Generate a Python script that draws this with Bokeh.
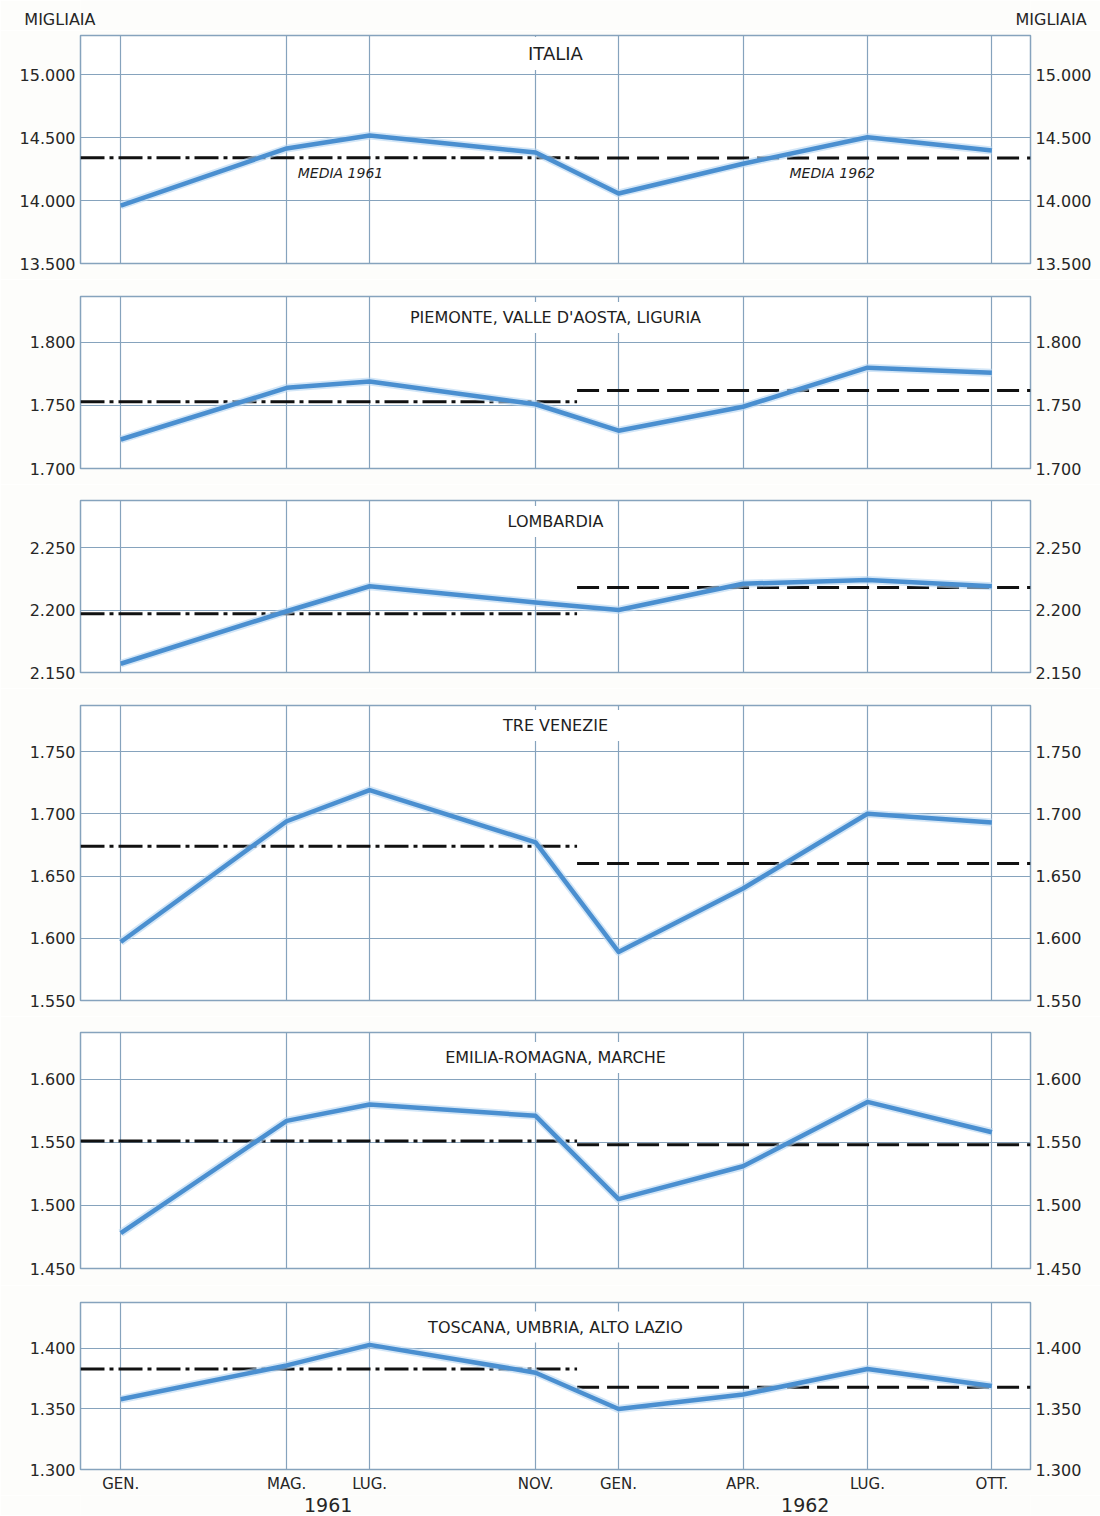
from bokeh.plotting import figure
from bokeh.layouts import column
from bokeh.models import FixedTicker, LinearAxis, Label, Range1d, Grid
from bokeh.embed import file_html
from bokeh.resources import INLINE

# x positions: month index counted from January 1961
months = [0, 4, 6, 10, 12, 15, 18, 21]
month_labels = ["GEN.", "MAG.", "LUG.", "NOV.", "GEN.", "APR.", "LUG.", "OTT."]
years = ["1961", "1962"]
year_centers = [5.0, 16.5]
period_split = 11  # boundary between the 1961 and 1962 averages

regions = ["ITALIA", "PIEMONTE, VALLE D'AOSTA, LIGURIA", "LOMBARDIA",
           "TRE VENEZIE", "EMILIA-ROMAGNA, MARCHE", "TOSCANA, UMBRIA, ALTO LAZIO"]

# values in thousands
italia = [13960, 14413, 14516, 14381, 14056, 14292, 14502, 14397]
piemonte = [1723, 1764, 1769, 1751, 1730, 1749, 1780, 1776]
lombardia = [2157, 2199, 2219, 2206, 2200, 2221, 2224, 2219]
tre_venezie = [1597, 1694, 1719, 1677, 1589, 1640, 1700, 1693]
emilia = [1478, 1567, 1580, 1571, 1505, 1531, 1582, 1558]
toscana = [1358, 1386, 1403, 1380, 1350, 1362, 1383, 1369]

media_1961 = [14340, 1753, 2197, 1674, 1551, 1383]
media_1962 = [14338, 1762, 2218, 1660, 1548, 1368]

ticks_italia = [13500, 14000, 14500, 15000]
ticks_piemonte = [1700, 1750, 1800]
ticks_lombardia = [2150, 2200, 2250]
ticks_tre_venezie = [1550, 1600, 1650, 1700, 1750]
ticks_emilia = [1450, 1500, 1550, 1600]
ticks_toscana = [1300, 1350, 1400]

unit_label = "MIGLIAIA"

series = [italia, piemonte, lombardia, tre_venezie, emilia, toscana]
ticks = [ticks_italia, ticks_piemonte, ticks_lombardia, ticks_tre_venezie, ticks_emilia, ticks_toscana]

# ---- layout / style ----
y_ranges = [(13500, 15310), (1700, 1836.5), (2150, 2287.6), (1550, 1787), (1450, 1637), (1300, 1438)]
frame_h = [228, 172, 172, 295, 236, 170]
b_top = [5, 17, 16, 17, 16, 17]
b_bot = [16, 16, 16, 16, 17, 23]
title_off = [18, 21, 21, 20, 25, 25]
title_size = ["18px", "16px", "16px", "16px", "16px", "16px"]

W = 1100
BL, BR = 80, 70
HEAD_H, FOOT_H = 30, 20
GRID = "#86a3bd"
LINE = "#4a8fd0"
HALO = "#b5d6f2"
BG = "#fdfdfb"
FONT = "DejaVu Sans"
TXT = "#262626"

x_range = Range1d(-0.97, 21.93)


def fmt(v):
    return f"{v:,}".replace(",", ".")


def bare(height, xr, yr):
    f = figure(width=W, height=height, x_range=xr, y_range=yr,
               output_backend="svg", toolbar_location=None,
               x_axis_location=None, y_axis_location=None,
               min_border_left=BL, min_border_right=BR, min_border_top=0, min_border_bottom=0,
               background_fill_color=BG, border_fill_color=BG, outline_line_color=None)
    f.center = [c for c in f.center if not isinstance(c, Grid)]
    return f


# header: the unit label drawn as the single tick label of a left and a right axis
head = bare(HEAD_H, x_range, Range1d(0, HEAD_H))
for side, standoff in (("left", -15), ("right", -15)):
    hax = LinearAxis(ticker=FixedTicker(ticks=[8]), major_label_overrides={8: unit_label},
                     axis_line_color=None, major_tick_line_color=None,
                     minor_tick_line_color=None, major_tick_out=0, major_tick_in=0,
                     major_label_standoff=standoff,
                     major_label_text_font=FONT, major_label_text_font_size="16px",
                     major_label_text_color=TXT)
    head.add_layout(hax, side)

figs = [head]
for i, name in enumerate(regions):
    lo, hi = y_ranges[i]
    p = figure(width=W, height=b_top[i] + frame_h[i] + b_bot[i],
               x_range=x_range, y_range=Range1d(lo, hi),
               output_backend="svg", toolbar_location=None,
               x_axis_location=None, y_axis_location=None,
               min_border_left=BL, min_border_right=BR,
               min_border_top=b_top[i], min_border_bottom=b_bot[i],
               background_fill_color="white", border_fill_color=BG,
               outline_line_color=GRID, outline_line_width=1.5)
    p.center = [c for c in p.center if not isinstance(c, Grid)]
    p.add_layout(Grid(dimension=0, ticker=FixedTicker(ticks=months),
                      grid_line_color=GRID, grid_line_width=1.2))
    p.add_layout(Grid(dimension=1, ticker=FixedTicker(ticks=ticks[i]),
                      grid_line_color=GRID, grid_line_width=1.2))

    for side in ("left", "right"):
        ax = LinearAxis(ticker=FixedTicker(ticks=ticks[i]),
                        major_label_overrides={t: fmt(t) for t in ticks[i]},
                        axis_line_color=None, major_tick_line_color=None,
                        minor_tick_line_color=None, major_tick_out=0, major_tick_in=0,
                        major_label_standoff=5,
                        major_label_text_font=FONT, major_label_text_font_size="16px",
                        major_label_text_color=TXT)
        p.add_layout(ax, side)

    # title with white box
    ty = hi - (hi - lo) * title_off[i] / frame_h[i]
    p.add_layout(Label(x=(x_range.start + x_range.end) / 2, y=ty, text=name,
                       text_align="center", text_baseline="middle",
                       text_font=FONT, text_font_size=title_size[i], text_color="#1e1e1e",
                       background_fill_color="white",
                       padding=dict(left=14, right=14, top=6, bottom=6)))

    # averages
    m1, m2 = media_1961[i], media_1962[i]
    p.line([x_range.start, period_split], [m1, m1], line_color="#111111",
           line_width=3, line_dash="24 5 4 5")
    p.line([period_split, x_range.end], [m2, m2], line_color="#111111",
           line_width=3, line_dash="22 8")

    # data
    p.line(months, series[i], line_color=HALO, line_width=8, line_alpha=0.6,
           line_join="round")
    p.line(months, series[i], line_color=LINE, line_width=4.5, line_join="round")

    if i == 0:
        p.add_layout(Label(x=5.35, y=m1, y_offset=-7, text="MEDIA  1961",
                           text_align="center", text_baseline="top",
                           text_font=FONT, text_font_size="14px",
                           text_font_style="italic", text_color="#1e1e1e"))
        p.add_layout(Label(x=17.15, y=m2, y_offset=-7, text="MEDIA 1962",
                           text_align="center", text_baseline="top",
                           text_font=FONT, text_font_size="14px",
                           text_font_style="italic", text_color="#1e1e1e"))

    if i == len(regions) - 1:
        xa = LinearAxis(ticker=FixedTicker(ticks=months),
                        major_label_overrides={m: l for m, l in zip(months, month_labels)},
                        axis_line_color=None, major_tick_line_color=None,
                        minor_tick_line_color=None, major_tick_out=0, major_tick_in=0,
                        major_label_standoff=5,
                        major_label_text_font=FONT, major_label_text_font_size="15px",
                        major_label_text_color=TXT)
        p.add_layout(xa, "below")
    figs.append(p)

# footer with the years, sharing the x scale of the panels
foot = bare(FOOT_H, x_range, Range1d(0, FOOT_H))
for yl, xc in zip(years, year_centers):
    foot.add_layout(Label(x=xc, y=FOOT_H / 2 + 1, text=yl,
                          text_align="center", text_baseline="middle",
                          text_font=FONT, text_font_size="19px", text_color=TXT))
figs.append(foot)

layout = column(*figs, spacing=0)
open("out.html", "w").write(file_html(layout, INLINE, title="Occupati"))
